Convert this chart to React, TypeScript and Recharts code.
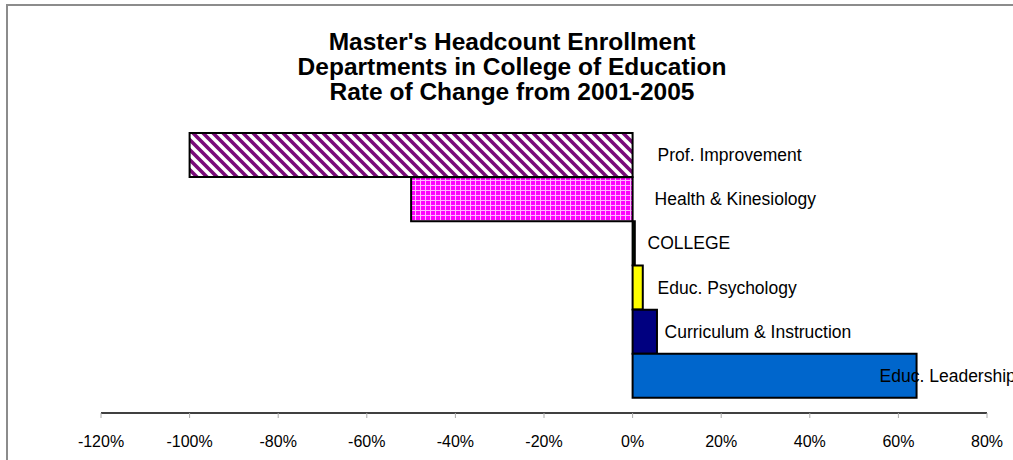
import React from "react";
import { BarChart, Bar, XAxis, YAxis, Cell, LabelList } from "recharts";

const categories = [
  "Prof. Improvement",
  "Health & Kinesiology",
  "COLLEGE",
  "Educ. Psychology",
  "Curriculum & Instruction",
  "Educ. Leadership",
];
const changeRates = [-1.0, -0.5, 0.005, 0.023, 0.055, 0.641];
const xTicks = [-1.2, -1.0, -0.8, -0.6, -0.4, -0.2, 0, 0.2, 0.4, 0.6, 0.8];
const titleLines = [
  "Master's Headcount Enrollment",
  "Departments in College of Education",
  "Rate of Change from 2001-2005",
];

const barFills = ["url(#stripes)", "url(#grid)", "#003300", "#FFFF00", "#000080", "#0066CC"];
const labelDx = [25, 22, 15, 25, 32, 247];

const data = categories.map((name, i) => ({ name, value: changeRates[i] }));

const FONT = "'Liberation Sans', Arial, sans-serif";

const renderLabel = (props: any) => {
  const { x, y, width, height, index } = props;
  const v = changeRates[index];
  const w = Number(width);
  const zeroX = v < 0 && w > 0 ? Number(x) + w : Number(x);
  const cy = Number(y) + Number(height) / 2;
  return (
    <text
      x={zeroX + labelDx[index]}
      y={cy + 6}
      fontSize={17.5}
      fontFamily={FONT}
      fill="#000"
    >
      {categories[index]}
    </text>
  );
};

export default function App() {
  return (
    <div
      style={{
        position: "absolute",
        left: 0,
        top: 0,
        width: 1013,
        height: 460,
        overflow: "hidden",
        background: "#fff",
      }}
    >
      <div
        style={{
          position: "absolute",
          left: 6,
          top: 4,
          width: 1100,
          height: 600,
          borderTop: "2px solid #8c8c8c",
          borderLeft: "2px solid #8c8c8c",
        }}
      />
      <div
        style={{
          position: "absolute",
          left: 12,
          top: 29,
          width: 1000,
          textAlign: "center",
          fontFamily: FONT,
          fontWeight: "bold",
          fontSize: 24.5,
          lineHeight: "25px",
          color: "#000",
        }}
      >
        {titleLines.map((t) => (
          <div key={t}>{t}</div>
        ))}
      </div>
      <div style={{ position: "absolute", left: 0, top: 0 }}>
        <BarChart
          width={1013}
          height={460}
          data={data}
          layout="vertical"
          margin={{ top: 133, right: 26, bottom: 17, left: 101 }}
          barCategoryGap={0}
        >
          <defs>
            <pattern id="stripes" patternUnits="userSpaceOnUse" width={10} height={10}>
              <rect x={0} y={0} width={10} height={10} fill="#ffffff" />
              <path
                d="M-1,-1 L11,11 M-6,4 L6,16 M4,-6 L16,6"
                stroke="#7a0a7a"
                strokeWidth={3.6}
              />
            </pattern>
            <pattern id="grid" patternUnits="userSpaceOnUse" width={5} height={5}>
              <rect x={0} y={0} width={5} height={5} fill="#FF00FF" />
              <rect x={0} y={0} width={5} height={1} fill="#ffb8ff" />
              <rect x={0} y={0} width={1} height={5} fill="#ffb8ff" />
            </pattern>
          </defs>
          <XAxis
            type="number"
            domain={[-1.2, 0.8]}
            ticks={xTicks}
            interval={0}
            height={30}
            tickFormatter={(v: number) => `${Math.round(v * 100)}%`}
            axisLine={{ stroke: "#000", strokeWidth: 1.5 }}
            tickLine={{ stroke: "#aaaaaa" }}
            tickSize={5}
            tickMargin={18}
            tick={{ fill: "#000", fontSize: 16, fontFamily: FONT }}
          />
          <YAxis
            type="category"
            dataKey="name"
            hide
            padding={{ top: 0, bottom: 15 }}
          />
          <Bar dataKey="value" stroke="#000" strokeWidth={2} isAnimationActive={false}>
            {data.map((d, i) => (
              <Cell key={d.name} fill={barFills[i]} />
            ))}
            <LabelList dataKey="value" content={renderLabel} />
          </Bar>
        </BarChart>
      </div>
    </div>
  );
}
